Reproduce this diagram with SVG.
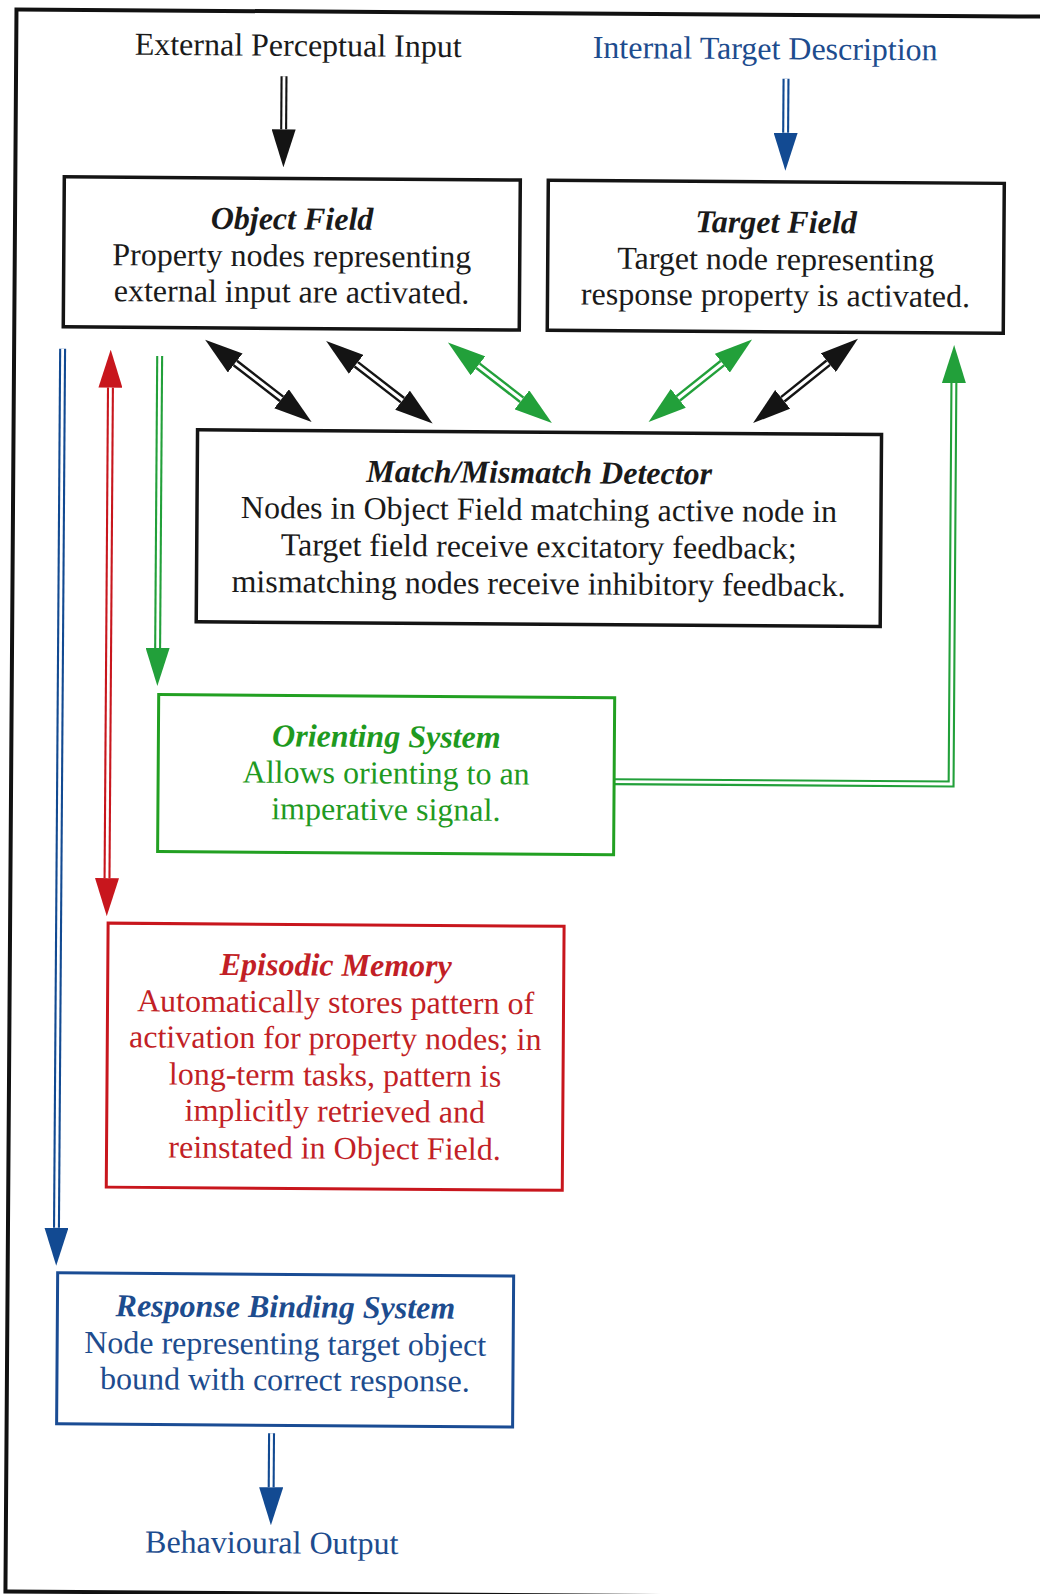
<svg xmlns="http://www.w3.org/2000/svg" width="1040" height="1594" viewBox="0 0 1040 1594">
  <style>
    text { font-family: "Liberation Serif", "Times New Roman", serif; font-size: 32px; text-anchor: middle; }
    .ttl { font-weight: bold; font-style: italic; }
    .tk { fill: #1a1a1a; }
    .tb { fill: #1d4c8e; }
    .tg { fill: #1f9a1f; }
    .tr { fill: #c21f26; }
    .box { fill: #ffffff; stroke-width: 3.5; }
    .bk { stroke: #141414; }
    .bb { stroke: #1a4c94; stroke-width: 3; }
    .bg { stroke: #22a022; stroke-width: 3; }
    .br { stroke: #c8161d; stroke-width: 3; }
    .frame { fill: none; stroke: #111111; stroke-width: 4; }
    .sh { fill: none; stroke-width: 7; stroke-linejoin: miter; }
    .in { fill: none; stroke: #ffffff; stroke-width: 2.8; stroke-linejoin: miter; }
    .dk { stroke: #141414; }
    .db { stroke: #124a92; }
    .dg { stroke: #22a03a; }
    .dr { stroke: #c8161d; }
    .wide { stroke-width: 8; }
    .wide-in { stroke-width: 3.2; }
  </style>
  <defs>
    <marker id="hk" viewBox="0 0 38 24" refX="0" refY="12" markerWidth="38" markerHeight="24" markerUnits="userSpaceOnUse" orient="auto-start-reverse">
      <path d="M0,0 L38,12 L0,24 Z" fill="#141414"/>
    </marker>
    <marker id="hb" viewBox="0 0 38 24" refX="0" refY="12" markerWidth="38" markerHeight="24" markerUnits="userSpaceOnUse" orient="auto-start-reverse">
      <path d="M0,0 L38,12 L0,24 Z" fill="#124a92"/>
    </marker>
    <marker id="hg" viewBox="0 0 38 24" refX="0" refY="12" markerWidth="38" markerHeight="24" markerUnits="userSpaceOnUse" orient="auto-start-reverse">
      <path d="M0,0 L38,12 L0,24 Z" fill="#22a03a"/>
    </marker>
    <marker id="hr" viewBox="0 0 38 24" refX="0" refY="12" markerWidth="38" markerHeight="24" markerUnits="userSpaceOnUse" orient="auto-start-reverse">
      <path d="M0,0 L38,12 L0,24 Z" fill="#c8161d"/>
    </marker>
  </defs>

  <rect x="0" y="0" width="1040" height="1594" fill="#ffffff"/>

  <g transform="rotate(0.4 520 797)">
    <rect class="frame" x="11" y="13" width="1100" height="1582"/>

    <!-- input / output labels -->
    <g id="external-input">
      <text class="tk" x="293" y="57.5">External Perceptual Input</text>
    </g>
    <g id="internal-target">
      <text class="tb" x="760" y="57.5">Internal Target Description</text>
    </g>
    <g id="behavioural-output">
      <text class="tb" x="277" y="1555">Behavioural Output</text>
    </g>

    <!-- connectors: double-line shafts with solid heads -->
    <g id="connectors">
      <!-- external input into object field -->
      <path class="sh dk" d="M279,78 V131" marker-end="url(#hk)"/>
      <path class="in" d="M279,78 V131"/>
      <!-- internal description into target field -->
      <path class="sh db" d="M781,77 V131" marker-end="url(#hb)"/>
      <path class="in" d="M781,77 V131"/>

      <!-- object field / target field to detector -->
      <path class="sh dk wide" d="M232.2,365 L278.8,400.5" marker-start="url(#hk)" marker-end="url(#hk)"/>
      <path class="in wide-in" d="M232.2,365 L278.8,400.5"/>
      <path class="sh dk wide" d="M353.2,365.5 L399.8,401" marker-start="url(#hk)" marker-end="url(#hk)"/>
      <path class="in wide-in" d="M353.2,365.5 L399.8,401"/>
      <path class="sh dg wide" d="M475,366.1 L519.1,399.8" marker-start="url(#hg)" marker-end="url(#hg)"/>
      <path class="in wide-in" d="M475,366.1 L519.1,399.8"/>
      <path class="sh dg wide" d="M719.3,361.8 L675.5,397.2" marker-start="url(#hg)" marker-end="url(#hg)"/>
      <path class="in wide-in" d="M719.3,361.8 L675.5,397.2"/>
      <path class="sh dk wide" d="M825.3,360.5 L779.9,397.5" marker-start="url(#hk)" marker-end="url(#hk)"/>
      <path class="in wide-in" d="M825.3,360.5 L779.9,397.5"/>

      <!-- object field to response binding -->
      <path class="sh db" d="M59.5,352 V1231" marker-end="url(#hb)"/>
      <path class="in" d="M59.5,352 V1231"/>
      <!-- object field to / from episodic memory -->
      <path class="sh dr" d="M107.6,390.5 V881" marker-start="url(#hr)" marker-end="url(#hr)"/>
      <path class="in" d="M107.6,390.5 V881"/>
      <!-- object field to orienting system -->
      <path class="sh dg" d="M156.6,358.5 V650.5" marker-end="url(#hg)"/>
      <path class="in" d="M156.6,358.5 V650.5"/>
      <!-- orienting system back to target field -->
      <path class="sh dg" d="M614,781 H951 V380" marker-end="url(#hg)"/>
      <path class="in" d="M614,781 H951 V380"/>
      <!-- response binding to output -->
      <path class="sh db" d="M276,1435 V1489" marker-end="url(#hb)"/>
      <path class="in" d="M276,1435 V1489"/>
    </g>

    <g id="object-field">
      <rect class="box bk" x="60" y="180" width="456" height="150"/>
      <text class="tk ttl" x="288" y="231">Object Field</text>
      <text class="tk" x="288" y="268">Property nodes representing</text>
      <text class="tk" x="288" y="304">external input are activated.</text>
    </g>

    <g id="target-field">
      <rect class="box bk" x="544" y="180" width="456" height="150"/>
      <text class="tk ttl" x="772" y="231">Target Field</text>
      <text class="tk" x="772" y="268">Target node representing</text>
      <text class="tk" x="772" y="304">response property is activated.</text>
    </g>

    <g id="match-detector">
      <rect class="box bk" x="195" y="432" width="684" height="192"/>
      <text class="tk ttl" x="537" y="483">Match/Mismatch Detector</text>
      <text class="tk" x="537" y="520">Nodes in Object Field matching active node in</text>
      <text class="tk" x="537" y="557">Target field receive excitatory feedback;</text>
      <text class="tk" x="537" y="594">mismatching nodes receive inhibitory feedback.</text>
    </g>

    <g id="orienting-system">
      <rect class="box bg" x="158" y="697" width="456" height="157"/>
      <text class="tg ttl" x="386" y="748">Orienting System</text>
      <text class="tg" x="386" y="784.5">Allows orienting to an</text>
      <text class="tg" x="386" y="821">imperative signal.</text>
    </g>

    <g id="episodic-memory">
      <rect class="box br" x="109" y="926" width="456" height="264"/>
      <text class="tr ttl" x="337" y="977">Episodic Memory</text>
      <text class="tr" x="337" y="1014">Automatically stores pattern of</text>
      <text class="tr" x="337" y="1050">activation for property nodes; in</text>
      <text class="tr" x="337" y="1087">long-term tasks, pattern is</text>
      <text class="tr" x="337" y="1123">implicitly retrieved and</text>
      <text class="tr" x="337" y="1160">reinstated in Object Field.</text>
    </g>

    <g id="response-binding">
      <rect class="box bb" x="61" y="1276" width="456" height="151"/>
      <text class="tb ttl" x="289" y="1319">Response Binding System</text>
      <text class="tb" x="289" y="1356">Node representing target object</text>
      <text class="tb" x="289" y="1392">bound with correct response.</text>
    </g>
  </g>
</svg>
